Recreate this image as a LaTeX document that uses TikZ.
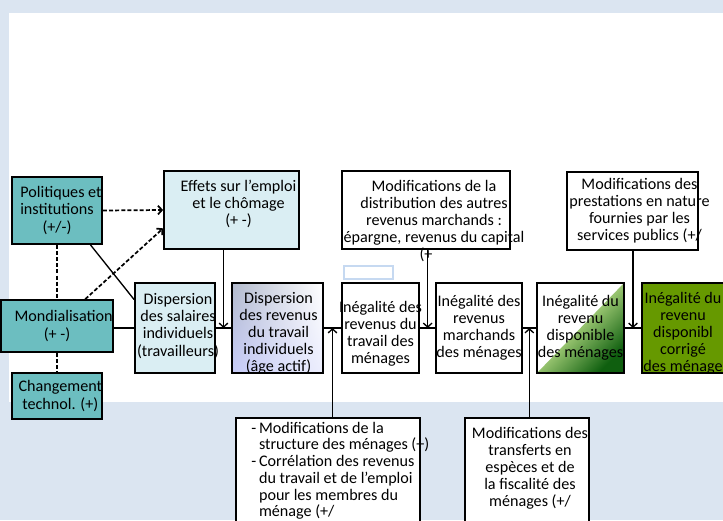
\documentclass[tikz,border=0pt]{standalone}
\usepackage{fontspec}
\setmainfont{Carlito}
\usetikzlibrary{arrows.meta,calc,shadings}
\definecolor{fond}{RGB}{219,229,241}
\definecolor{sarcelle}{RGB}{108,190,192}
\definecolor{cyanpale}{RGB}{218,238,243}
\definecolor{olive}{RGB}{102,153,0}
\definecolor{vertfonce}{RGB}{15,95,15}
\definecolor{vertclair}{RGB}{150,195,110}
\definecolor{bordpetit}{RGB}{198,217,241}
\definecolor{grisbleu}{RGB}{178,186,204}
\definecolor{lavande}{RGB}{198,203,248}
\definecolor{lavandepale}{RGB}{236,238,253}

\begin{document}
\begin{tikzpicture}[x=0.75pt,y=-0.75pt]
\tikzstyle{every node}+=[inner sep=0pt,align=center,font=\fontsize{12.1}{12.8}\selectfont]
\tikzstyle{box}=[draw=black,line width=1.3pt,minimum height=67.5pt]
\tikzstyle{fleche}=[line width=1pt,-{Straight Barb[length=3pt,width=6.5pt]}]
\tikzstyle{trait}=[line width=1pt]
\tikzstyle{tirets}=[line width=1.3pt,dash pattern=on 3pt off 1.6pt]
\clip (0,0) rectangle (723,520);
\fill[fond] (0,0) rectangle (723,520);
\fill[white] (9,13) rectangle (723,402);
% facteurs a gauche
\node[box,fill=sarcelle,minimum width=67.5pt,minimum height=50.25pt] (pol) at (57,210.5) {\hspace*{6pt}Politiques et\\institutions\\(+/-)};
\node[box,fill=sarcelle,minimum width=67.5pt,minimum height=39pt] (mond) at (57,326) {\hspace*{10pt}Mondialisation\\(+ -)};
\node[box,fill=sarcelle,minimum width=67.5pt,minimum height=34.5pt] (tech) at (57,396) {\hspace*{5pt}Changement\\\hspace*{5pt}technol. (+)};
\node[box,fill=cyanpale,minimum width=101.25pt,minimum height=58.5pt] (emploi) at (231.5,210) {};
\node[anchor=north] (emploi-t) at ($(emploi.north)+(7,9.5)$) {Effets sur l’emploi\\et le chômage\\(+ -)};
% chaine principale
\node[box,fill=cyanpale,minimum width=60pt] (sal) at (175,328) {};
\node (sal-t) at ($(sal.center)+(3,-2)$) {Dispersion\\des salaires\\individuels\\(travailleurs)};
\node[box,upper left=grisbleu,lower left=lavande,upper right=white,lower right=lavandepale,minimum width=68.25pt] (trav) at (277.5,328) {};
\node (trav-t) at ($(trav.center)+(1,5)$) {Dispersion\\des revenus\\du travail\\individuels\\(âge actif)};
\node[box,fill=white,minimum width=57.75pt] (men) at (380.5,328) {};
\node (men-t) at ($(men.center)+(0,6)$) {Inégalité des\\revenus du\\travail des\\ménages};
\node[box,fill=white,minimum width=63pt] (march) at (479,328) {Inégalité des\\revenus\\marchands\\des ménages};
\node[box,fill=white,minimum width=65.25pt,path picture={
  \fill[left color=white,right color=vertfonce,middle color=vertclair,shading angle=45]
    (path picture bounding box.south west) -- (path picture bounding box.north east)
    -- (path picture bounding box.south east) -- cycle;}] (disp) at (580.5,328) {Inégalité du\\revenu\\disponible\\des ménages};
\node[box,fill=olive,minimum width=66pt] (corr) at (686,328) {};
\node (corr-t) at ($(corr.center)+(-3,5)$) {Inégalité du\\revenu\\disponibl\\corrigé\\des ménage};
% modifications
\node[box,fill=white,minimum width=126pt,minimum height=58.5pt] (autres) at (426,210) {};
\node[anchor=north] (autres-t) at ($(autres.north)+(8,9.5)$) {Modifications de la\\distribution des autres\\revenus marchands :\\épargne, revenus du capital\\(+\hspace*{12pt}};
\node[box,fill=white,minimum width=98.25pt,minimum height=58.5pt] (prest) at (632.5,211) {};
\node (prest-t) at ($(prest.center)+(7,0)$) {Modifications des\\prestations en nature\\fournies par les\\services publics (+/};
\node[draw=bordpetit,fill=white,line width=0.8pt,minimum width=36.75pt,minimum height=9.75pt] (vide) at (368.5,272.5) {};
\node[box,fill=white,minimum width=138pt,minimum height=86.25pt] (menstr) at (328,475.5) {};
\node[anchor=north west] (menstr-t) at ($(menstr.north west)+(16,4)$) {\renewcommand{\arraystretch}{0.98}\begin{tabular}{@{}l@{\,}l@{}}
-&Modifications de la\\&structure des ménages (+)\\-&Corrélation des revenus\\&du travail et de l’emploi\\&pour les membres du\\&ménage (+/\end{tabular}};
\node[box,fill=white,minimum width=93pt,minimum height=86.25pt] (fisc) at (527,475.5) {};
\node[anchor=north] (fisc-t) at ($(fisc.north)+(3,10)$) {Modifications des\\transferts en\\espèces et de\\la fiscalité des\\ménages (+/};
% liens
\draw[tirets] (pol) -- (mond);
\draw[tirets] (mond) -- (tech);
\draw[tirets,-{Straight Barb[length=3pt,width=6.5pt]}] (pol.east) -- (emploi.west);
\draw[tirets,-{Straight Barb[length=3pt,width=6.5pt]}] ($(mond.north)!0.5!(mond.north east)$) -- ($(emploi.west)!0.46!(emploi.south west)$);
\draw[trait] ($(pol.south)!0.73!(pol.south east)$) -- ($(sal.north west)!0.19!(sal.south west)$);
\draw[trait] (mond.east |- sal.west) -- (sal.west);
\draw[trait] (sal) -- (trav);
\draw[trait] (trav) -- (men);
\draw[trait] (men) -- (march);
\draw[trait] (march) -- (disp);
\draw[trait] (disp) -- (corr);
\coordinate (j1) at ($(sal.east)!0.5!(trav.west)$);
\coordinate (j2) at ($(trav.east)!0.5!(men.west)$);
\coordinate (j3) at ($(men.east)!0.5!(march.west)$);
\coordinate (j4) at ($(march.east)!0.5!(disp.west)$);
\coordinate (j5) at ($(disp.east)!0.5!(corr.west)$);
\draw[fleche] (emploi.south -| j1) -- (j1);
\draw[fleche] (menstr.north -| j2) -- (j2);
\draw[fleche] (autres.south -| j3) -- (j3);
\draw[fleche] (fisc.north -| j4) -- (j4);
\draw[fleche] (prest.south -| j5) -- (j5);
\end{tikzpicture}
\end{document}
